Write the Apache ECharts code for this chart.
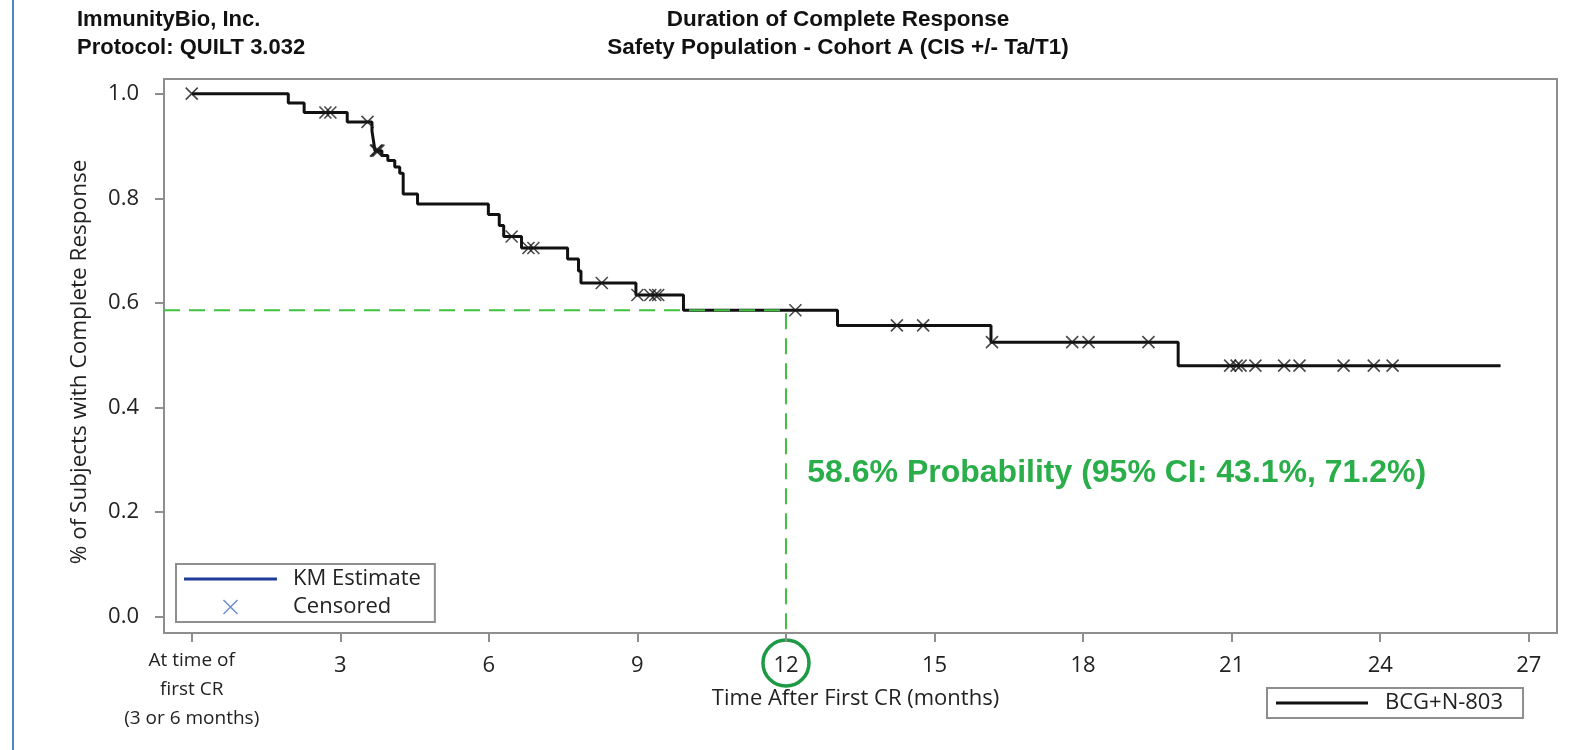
<!DOCTYPE html>
<html>
<head>
<meta charset="utf-8">
<title>Duration of Complete Response</title>
<script src="https://cdn.jsdelivr.net/npm/echarts@6/dist/echarts.min.js"></script>
<style>
html,body{margin:0;padding:0;background:#fff;}
#main{width:1588px;height:750px;}
</style>
</head>
<body>
<div id="main"></div>
<script>
// KM step curve (months after first CR, proportion still in response)
var kmTime = [0, 1.95, 2.27, 3.14, 3.64, 3.67, 3.70, 3.84, 3.96, 4.10, 4.20, 4.27, 4.56, 5.99, 6.21, 6.30, 6.66, 7.59, 7.81, 7.86, 8.97, 9.93, 13.04, 16.14, 19.92, 26.43];
var kmSurv = [1.0, 0.982, 0.964, 0.946, 0.928, 0.910, 0.891, 0.882, 0.872, 0.860, 0.848, 0.808, 0.789, 0.769, 0.748, 0.727, 0.705, 0.684, 0.661, 0.638, 0.615, 0.586, 0.557, 0.525, 0.480, 0.480];

// censored subjects
var censorTime = [0, 2.70, 2.80, 3.55, 3.72, 3.74, 3.77, 6.46, 6.80, 6.90, 8.28, 9.00, 9.26, 9.36, 9.42, 12.19, 14.24, 14.77, 16.16, 17.78, 18.11, 19.32, 20.97, 21.10, 21.18, 21.48, 22.06, 22.37, 23.26, 23.87, 24.25];
var censorSurv = [1.0, 0.964, 0.964, 0.946, 0.891, 0.891, 0.891, 0.727, 0.705, 0.705, 0.638, 0.615, 0.615, 0.615, 0.615, 0.586, 0.557, 0.557, 0.525, 0.525, 0.525, 0.525, 0.480, 0.480, 0.480, 0.480, 0.480, 0.480, 0.480, 0.480, 0.480];

// axes
var xTicks = [0, 3, 6, 9, 12, 15, 18, 21, 24, 27];
var xTickLabels = ['At time of\nfirst CR\n(3 or 6 months)', '3', '6', '9', '12', '15', '18', '21', '24', '27'];
var yTicks = [0, 0.2, 0.4, 0.6, 0.8, 1.0];
var xMin = -0.56, xMax = 27.57;
var yMin = -0.031, yMax = 1.028;

// 12 month reference
var refTime = 12;
var refSurv = 0.586;
var refText = '58.6% Probability (95% CI: 43.1%, 71.2%)';
var refTextTime = 12.43, refTextSurv = 0.274;

var tickFont = 'Open Sans';
var titleFont = 'Liberation Sans';
var xMark = 'path://M0,0L10,10M10,0L0,10';
var lineIcon = 'path://M0,0L93,0L93,3L0,3Z';

var chart = echarts.init(document.getElementById('main'));

var kmData = [];
for (var i = 0; i < kmTime.length; i++) kmData.push([kmTime[i], kmSurv[i]]);
var censorData = [];
for (var i = 0; i < censorTime.length; i++) censorData.push([censorTime[i], censorSurv[i]]);

var option = {
	animation: false,
	backgroundColor: '#fff',
	title: [{
		text: 'ImmunityBio, Inc.\nProtocol: QUILT 3.032',
		left: 72, top: 1,
		textStyle: {fontFamily: titleFont, fontWeight: 'bold', fontSize: 22, lineHeight: 28, color: '#111'}
	}, {
		text: 'Duration of Complete Response\nSafety Population - Cohort A (CIS +/- Ta/T1)',
		left: 833, top: 1, textAlign: 'center',
		textStyle: {fontFamily: titleFont, fontWeight: 'bold', fontSize: 22.5, lineHeight: 28, color: '#111'}
	}],
	grid: {
		left: 164, top: 79, right: 31, bottom: 117,
		show: true, borderColor: '#8e8e8e', borderWidth: 2
	},
	legend: [{
		data: [
			{name: 'KM Estimate', icon: lineIcon},
			{name: 'Censored', itemStyle: {color: 'rgba(0,0,0,0)', borderColor: '#4a70c0', borderWidth: 1.5}}
		],
		orient: 'vertical',
		left: 176, top: 564,
		padding: [4, 14, 4, 8],
		itemWidth: 93, itemHeight: 14, itemGap: 6,
		borderColor: '#8e8e8e', borderWidth: 2,
		selectedMode: false,
		textStyle: {fontFamily: tickFont, fontSize: 22, lineHeight: 22, color: '#222', padding: [0, 0, 0, 11]}
	}, {
		data: [{name: 'BCG+N-803', icon: lineIcon}],
		left: 1267, top: 688,
		padding: [4, 20, 4, 9],
		itemWidth: 92, itemHeight: 14,
		borderColor: '#8e8e8e', borderWidth: 2,
		selectedMode: false,
		textStyle: {fontFamily: tickFont, fontSize: 22, lineHeight: 22, color: '#222', padding: [0, 0, 0, 12]}
	}],
	xAxis: [{
		type: 'value', min: xMin, max: xMax,
		name: 'Time After First CR (months)',
		nameLocation: 'middle', nameGap: 55,
		nameTextStyle: {fontFamily: tickFont, fontSize: 22, color: '#222', padding: [0, 10, 0, 0]},
		axisLine: {show: true, onZero: false, lineStyle: {color: '#8e8e8e', width: 2}},
		axisTick: {show: true, length: 9, customValues: xTicks, lineStyle: {color: '#8e8e8e', width: 2}},
		axisLabel: {
			customValues: xTicks.slice(1), margin: 22,
			fontFamily: tickFont, fontSize: 22, lineHeight: 22, color: '#222',
			formatter: function (v) { return String(v); }
		},
		splitLine: {show: false}
	}, {
		// only the first, three-line label
		type: 'value', min: xMin, max: xMax, position: 'bottom',
		axisLine: {show: false, onZero: false}, axisTick: {show: false},
		axisLabel: {
			customValues: [xTicks[0]], margin: 13,
			fontFamily: tickFont, fontSize: 19, lineHeight: 29, color: '#222',
			formatter: function () { return xTickLabels[0]; }
		},
		splitLine: {show: false}
	}],
	yAxis: {
		type: 'value', min: yMin, max: yMax,
		name: '% of Subjects with Complete Response',
		nameLocation: 'middle', nameGap: 73,
		nameTextStyle: {fontFamily: tickFont, fontSize: 22.5, color: '#222', padding: [0, 12, 0, 0]},
		axisLine: {show: true, onZero: false, lineStyle: {color: '#8e8e8e', width: 2}},
		axisTick: {show: true, length: 9, customValues: yTicks, lineStyle: {color: '#8e8e8e', width: 2}},
		axisLabel: {
			customValues: yTicks, margin: 25,
			fontFamily: tickFont, fontSize: 22, color: '#222',
			formatter: function (v) { return v.toFixed(1); }
		},
		splitLine: {show: false}
	},
	series: [{
		name: 'BCG+N-803',
		type: 'line', step: 'end',
		data: kmData,
		symbol: 'none',
		color: '#111',
		lineStyle: {color: '#111', width: 3},
		z: 2
	}, {
		name: 'censored marks',
		type: 'scatter',
		data: censorData,
		symbol: xMark, symbolSize: 12,
		itemStyle: {color: 'rgba(0,0,0,0)', borderColor: '#1a1a1a', borderWidth: 1.6},
		z: 4
	}, {
		name: '12 month reference',
		type: 'line',
		data: [[xMin, refSurv], [refTime, refSurv], [refTime, yMin]],
		symbol: 'none',
		lineStyle: {color: '#3ec23e', width: 2, type: [16, 9]},
		z: 3
	}, {
		// legend only
		name: 'KM Estimate', type: 'line', data: [], symbol: 'none',
		color: '#1f3c99', lineStyle: {color: '#1f3c99', width: 3}
	}, {
		name: 'Censored', type: 'scatter', data: [],
		symbol: xMark, symbolSize: 12,
		itemStyle: {color: 'rgba(0,0,0,0)', borderColor: '#4a70c0', borderWidth: 1.5}
	}]
};
chart.setOption(option);

// green annotation text and circle around the 12 month tick
var cx = chart.convertToPixel({xAxisIndex: 0}, refTime);
var tp = chart.convertToPixel({gridIndex: 0}, [refTextTime, refTextSurv]);
var gridBottom = 750 - 117;
chart.setOption({
	graphic: [{
		type: 'line',
		shape: {x1: 13, y1: 0, x2: 13, y2: 750},
		style: {stroke: '#4a89c9', lineWidth: 2}
	}, {
		type: 'circle',
		shape: {cx: cx, cy: gridBottom + 30, r: 23},
		style: {fill: 'none', stroke: '#1c9a44', lineWidth: 3.5}
	}, {
		type: 'text',
		x: tp[0], y: tp[1],
		style: {
			text: refText, fill: '#2aae4a',
			font: 'bold 32px "Liberation Sans"',
			textAlign: 'left', textVerticalAlign: 'middle'
		}
	}]
});
</script>
</body>
</html>
